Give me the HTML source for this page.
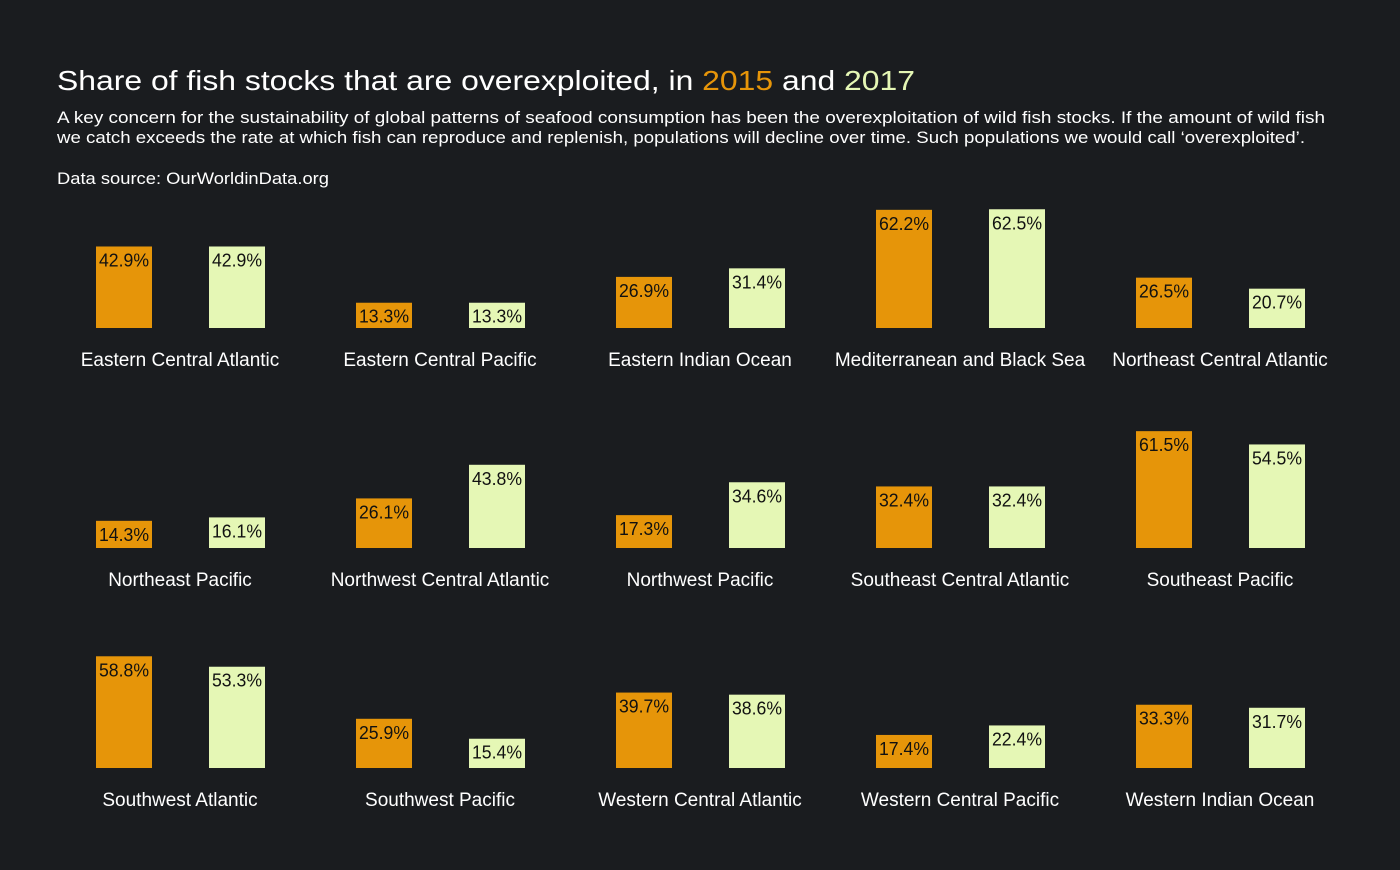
<!DOCTYPE html>
<html><head><meta charset="utf-8"><style>
body{margin:0;background:#1a1c1f;width:1400px;height:865px;overflow:hidden;font-family:"Liberation Sans",sans-serif;}
</style></head><body>
<svg id="chart" width="1400" height="865">
<rect x="0" y="0" width="1400" height="865" fill="#1a1c1f"/>
<text x="57" y="90" font-size="28" fill="#ffffff" textLength="858" lengthAdjust="spacingAndGlyphs">Share of fish stocks that are overexploited, in <tspan fill="#e69509">2015</tspan> and <tspan fill="#e5f7b5">2017</tspan></text>
<text x="57" y="123" font-size="16.5" fill="#ffffff" textLength="1268" lengthAdjust="spacingAndGlyphs">A key concern for the sustainability of global patterns of seafood consumption has been the overexploitation of wild fish stocks. If the amount of wild fish</text>
<text x="57" y="143" font-size="16.5" fill="#ffffff" textLength="1248" lengthAdjust="spacingAndGlyphs">we catch exceeds the rate at which fish can reproduce and replenish, populations will decline over time. Such populations we would call ‘overexploited’.</text>
<text x="57" y="184" font-size="16.5" fill="#ffffff" textLength="272" lengthAdjust="spacingAndGlyphs">Data source: OurWorldinData.org</text>
<g id="panels"></g>
</svg>
<script>
const regions=["Eastern Central Atlantic","Eastern Central Pacific","Eastern Indian Ocean","Mediterranean and Black Sea","Northeast Central Atlantic","Northeast Pacific","Northwest Central Atlantic","Northwest Pacific","Southeast Central Atlantic","Southeast Pacific","Southwest Atlantic","Southwest Pacific","Western Central Atlantic","Western Central Pacific","Western Indian Ocean"];
const values2015=[42.9,13.3,26.9,62.2,26.5,14.3,26.1,17.3,32.4,61.5,58.8,25.9,39.7,17.4,33.3];
const values2017=[42.9,13.3,31.4,62.5,20.7,16.1,43.8,34.6,32.4,54.5,53.3,15.4,38.6,22.4,31.7];
const colors=["#e69509","#e5f7b5"];
const NS="http://www.w3.org/2000/svg";
const g=document.getElementById('panels');
function y(v){return v*1.9;}
function mk(tag,attrs){const e=document.createElementNS(NS,tag);for(const k in attrs)e.setAttribute(k,attrs[k]);return e;}
regions.forEach((r,i)=>{
  const col=i%5,row=Math.floor(i/5);
  const x0=96+col*260, base=328+row*220;
  [values2015[i],values2017[i]].forEach((v,j)=>{
    const bx=x0+j*113,h=y(v);
    const rect=mk('rect',{x:bx,y:base-h,width:56,height:h,fill:colors[j]});
    
    
    g.appendChild(rect);
    const t=mk('text',{x:bx+28,y:base-h+20,'text-anchor':'middle','font-size':18,fill:'#111',textLength:50,lengthAdjust:'spacingAndGlyphs'});
    t.textContent=v.toFixed(1)+'%';
    
    
    g.appendChild(t);
  });
  const l=mk('text',{x:x0+84,y:base+38,'text-anchor':'middle','font-size':19,fill:'#ffffff'});
  l.textContent=r;
  
  
  g.appendChild(l);
});
</script>
</body></html>
